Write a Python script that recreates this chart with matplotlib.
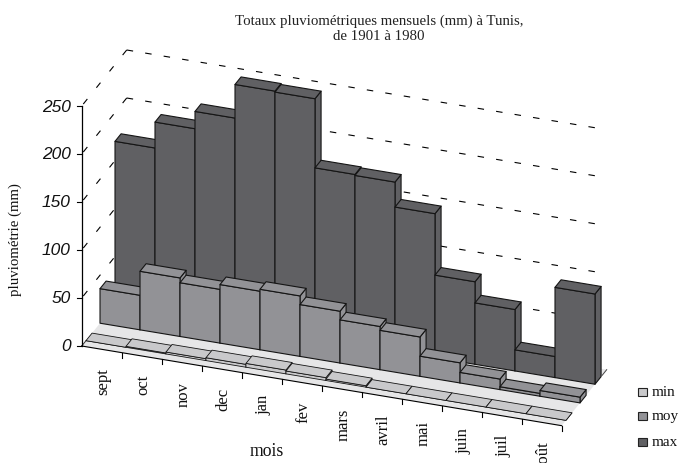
import matplotlib
matplotlib.use('Agg')
import matplotlib.pyplot as plt
from matplotlib.patches import Polygon

mois = ['sept', 'oct', 'nov', 'dec', 'jan', 'fev', 'mars', 'avril', 'mai', 'juin', 'juil', 'août']
v_min = [0, 1, 2, 3, 4, 3, 1.5, 0, 0, 0, 0, 0]
v_moy = [36, 61, 56, 61, 63, 54, 45, 41, 21, 11, 3, 6]
v_max = [170, 197, 215, 250, 249, 177, 176, 150, 86, 64, 22, 94]
y_ticks = [0, 50, 100, 150, 200, 250]

col_min = '#c9c9cb'
col_moy = '#929296'
col_max = '#606063'
col_floor = '#e6e6e7'

# projection oblique : position sur l'axe des mois, profondeur, valeur -> pixels
X0, Y0 = 81.7, 347
CAT_W = 40
CAT_SLOPE = 6.64
DEPTH_X, DEPTH_Y = 45, -56
PX_UNIT = 0.96
BAR_D = 0.135


def proj(i, d, v=0):
    return (X0 + CAT_W * i + DEPTH_X * d, Y0 + CAT_SLOPE * i + DEPTH_Y * d - PX_UNIT * v)


def draw_row(ax, values, d0, col, lw=0.8):
    d1 = d0 + BAR_D
    for i, v in enumerate(values):
        front = [proj(i, d0, 0), proj(i + 1, d0, 0), proj(i + 1, d0, v), proj(i, d0, v)]
        top = [proj(i, d0, v), proj(i + 1, d0, v), proj(i + 1, d1, v), proj(i, d1, v)]
        side = [proj(i + 1, d0, 0), proj(i + 1, d1, 0), proj(i + 1, d1, v), proj(i + 1, d0, v)]
        for pts in (side, front, top):
            ax.add_patch(Polygon(pts, closed=True, fc=col, ec='#151515', lw=lw, joinstyle='round', zorder=3))


fig = plt.figure(figsize=(6.8, 4.64), dpi=100)
ax = fig.add_axes([0, 0, 1, 1])
ax.set_xlim(0, 680)
ax.set_ylim(464, 0)
ax.axis('off')

n = len(mois)

# sol
floor = [proj(0, 0), proj(n, 0), proj(n, 1), proj(0, 1)]
ax.add_patch(Polygon(floor, closed=True, fc=col_floor, ec='none', zorder=1))
ax.plot(*zip(proj(0, 0), proj(0, 0.1)), color='#333333', lw=0.7, zorder=2)

# grille en tirets, depuis le coin du fond vers l'avant et vers la droite
for t in y_ticks[1:]:
    ax.plot(*zip(proj(0, 1, t), proj(0, 0, t)), color='black', lw=0.8,
            dashes=(5.85, 13), dash_capstyle='butt', zorder=2)
    ax.plot(*zip(proj(0, 1, t), proj(n, 1, t)), color='black', lw=0.8,
            dashes=(5.85, 11), dash_capstyle='butt', zorder=2)
ax.plot(*zip(proj(n, 1, 0), proj(n, 0.9, 0)), color='#444444', lw=0.7, zorder=2)

draw_row(ax, v_max, 0.74, col_max)
draw_row(ax, v_moy, 0.407, col_moy)
draw_row(ax, v_min, 0.095, col_min, lw=0.6)

# axes
ax.plot(*zip(proj(0, 0), proj(n, 0)), color='black', lw=0.8, zorder=4)
ax.plot(*zip(proj(0, 0, 0), proj(0, 0, y_ticks[-1])), color='black', lw=0.9, zorder=4)
for t in y_ticks:
    x, y = proj(0, 0, t)
    ax.plot([x - 5, x], [y, y], color='black', lw=0.8, zorder=4)
    ax.text(x - 11, y, str(t), ha='right', va='center', fontsize=12.5,
            family='Liberation Sans', style='italic', color='#111111')
for i in range(1, n + 1):
    x, y = proj(i, 0)
    ax.plot([x, x], [y, y + 5], color='black', lw=0.8, zorder=4)

for i, m in enumerate(mois):
    x, y = proj(i + 0.5, 0)
    ax.text(x + 1.5, y + 18, m, rotation=90, ha='center', va='top', fontsize=12,
            family='Liberation Serif', color='#111111')

ax.text(379, 29, 'Totaux pluviométriques mensuels (mm) à Tunis,\nde 1901 à 1980', ha='center',
        va='center', fontsize=10.7, family='Liberation Serif', linespacing=1.25, color='#222222')
ax.text(15, 240, 'pluviométrie (mm)', rotation=90, ha='center', va='center', fontsize=10.7,
        family='Liberation Serif', color='#111111')
ax.text(267, 452, 'mois', ha='center', va='center', fontsize=12.7, family='Liberation Serif', color='#111111')

# légende
for lab, col, y in [('min', col_min, 393), ('moy', col_moy, 417), ('max', col_max, 443)]:
    ax.add_patch(Polygon([(638, y - 4), (646.5, y - 4), (646.5, y + 4), (638, y + 4)], closed=True,
                         fc=col, ec='#222222', lw=0.8))
    ax.text(652, y, lab, ha='left', va='center', fontsize=10.9, family='Liberation Serif', color='#111111')

fig.savefig('out.png', dpi=100)
